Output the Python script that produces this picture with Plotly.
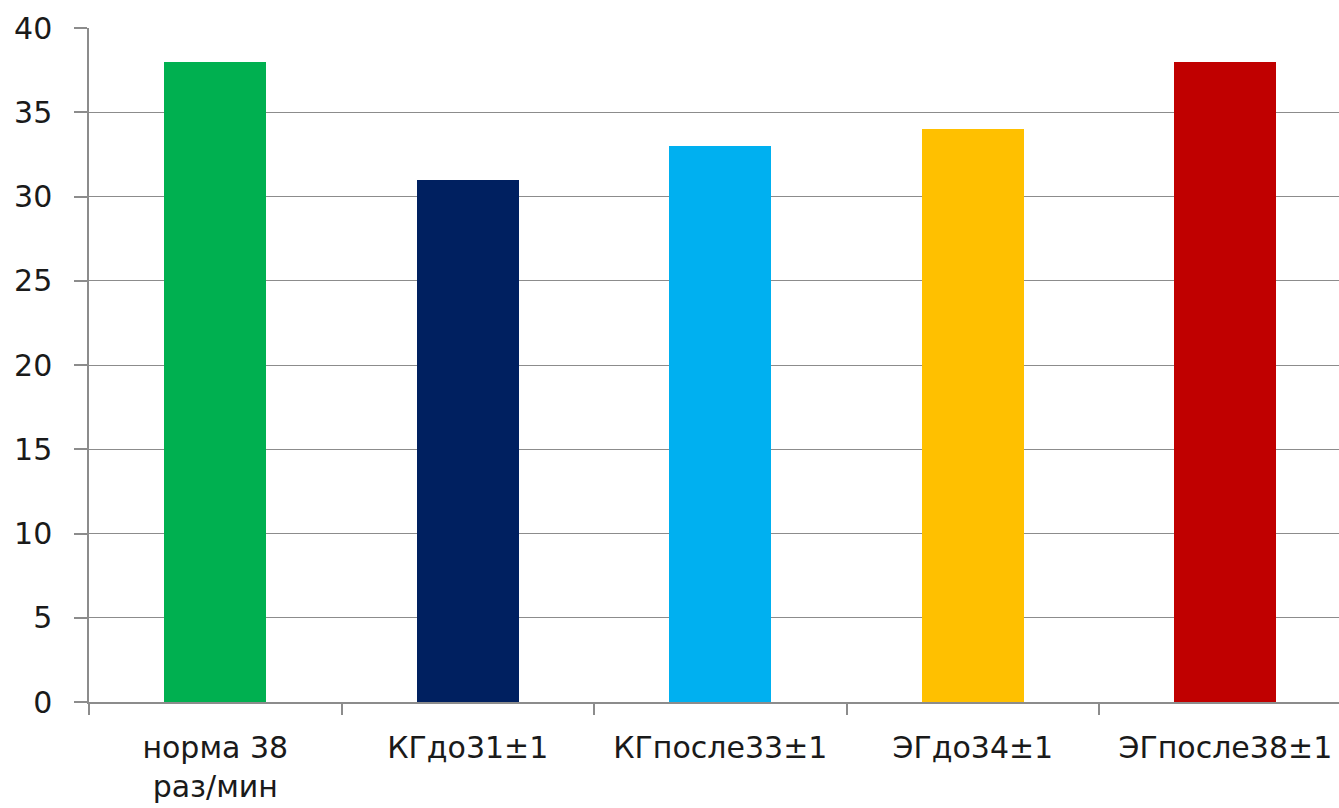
import plotly.graph_objects as go

# Respiratory rate by group (breaths per minute)
categories = ["норма 38<br>раз/мин", "КГдо31±1", "КГпосле33±1", "ЭГдо34±1", "ЭГпосле38±1"]
values = [38, 31, 33, 34, 38]
colors = ["#00B050", "#002060", "#00B0F0", "#FFC000", "#C00000"]
y_ticks = [0, 5, 10, 15, 20, 25, 30, 35, 40]

grid_color = "#8C8C8C"
font_family = "DejaVu Sans, Verdana, sans-serif"

fig = go.Figure(
    go.Bar(
        x=categories,
        y=values,
        marker=dict(color=colors, line=dict(width=0)),
        width=0.404,
        showlegend=False,
    )
)

fig.update_layout(
    width=1339,
    height=808,
    margin=dict(l=89, r=0, t=28, b=106),
    paper_bgcolor="white",
    plot_bgcolor="white",
    font=dict(family=font_family, size=30, color="#1a1a1a"),
    bargap=0,
)

fig.update_xaxes(
    range=[-0.5, 4.45],
    tickson="boundaries",
    ticks="outside",
    ticklen=11,
    tickcolor=grid_color,
    tickwidth=1.5,
    showline=True,
    linecolor=grid_color,
    linewidth=1.5,
    showgrid=False,
    tickfont=dict(size=30),
    ticklabelstandoff=18,
)

fig.update_yaxes(
    range=[0, 40],
    tickvals=y_ticks,
    ticks="outside",
    ticklen=13,
    tickcolor=grid_color,
    tickwidth=1.5,
    showline=True,
    linecolor=grid_color,
    linewidth=1.5,
    showgrid=True,
    gridcolor=grid_color,
    gridwidth=1.2,
    zeroline=False,
    tickfont=dict(size=30),
    ticklabelstandoff=16,
)

fig.write_html("out.html")
